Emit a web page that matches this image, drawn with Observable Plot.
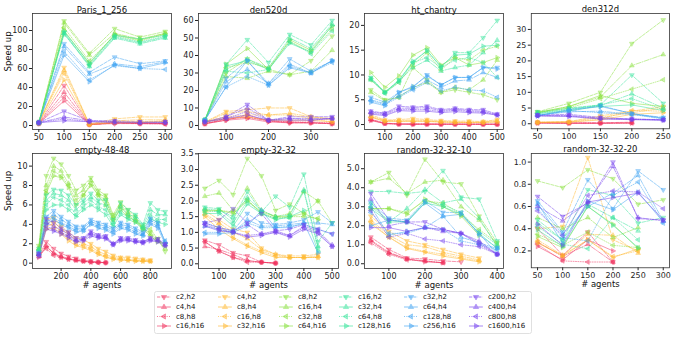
<!DOCTYPE html>
<html><head><meta charset="utf-8">
<script src="https://cdn.jsdelivr.net/npm/d3@7"></script>
<script src="https://cdn.jsdelivr.net/npm/@observablehq/plot@0.6"></script>
<style>
body{margin:0;background:#fff;font-family:"DejaVu Sans",sans-serif;}
#root{position:relative;width:675px;height:338px;overflow:hidden;background:#fff;}
.panel{position:absolute;}
</style></head><body><div id="root"></div>
<script>
// ---------- series ----------
const seriesNames = ["c2,h2","c4,h4","c8,h8","c16,h16",
  "c4,h2","c8,h4","c16,h8","c32,h16",
  "c8,h2","c16,h4","c32,h8","c64,h16",
  "c16,h2","c32,h4","c64,h8","c128,h16",
  "c32,h2","c64,h4","c128,h8","c256,h16",
  "c200,h2","c400,h4","c800,h8","c1600,h16"];
const groupColors = ["#f0305c","#ffb830","#86e03a","#33e49a","#3ea2f2","#7440ee"];

// ---------- Paris_1_256 ----------
const parisX = [50,100,150,200,250,300];
const parisY = [
 [2,42,1,2,2,2],[2,35,1,2.5,2,2],[2,30,1,3,2,1.5],[2,26,1,3,2.5,2],
 [3,61,1.5,7,9,9],[3,58,1.5,5,6,6],[3,55,1,4,4,5],[3,48,1,3,3,4],
 [3,110,76,102,93,99],[3,108,74,97,91,97],[3,103,68,95,89,96],[3,100,65,96,90,97],
 [3,98,63,93,87,93],[3,97,62,92,86,92],[3,96,64,94,88,94],[3,99,66,95,91,95],
 [3,86,56,72,65,68],[3,83,54,65,62,67],[3,78,48,63,60,59],[3,74,46,64,60,66],
 [3,15,5,5,4,4],[3,9,5,4,3,4],[3,7,4,4,3,3],[3,5,4,3,3,3]];
const parisXTicks = [50,100,150,200,250,300];
const parisYTicks = [0,20,40,60,80,100];

// ---------- den520d ----------
const den520X = [50,100,150,200,250,300,350];
const den520Y = [
 [1,3,6,2.5,1.5,1.5,1],[1,3.5,5,2.5,2,1.5,1],[1,4,4.5,3,2,2,1.5],[1,3,4,2,1.5,1.5,1],
 [2,8,9,10,10,5,4],[2,7,8,6,7,5,3],[2,5,6,6,6,4,2],[2,4,5,3,3,3,2],
 [3,30,38,32,29,37,51],[3,28,27,31,29,31,43],[3,33,36,33,48,42,55],[3,35,44,32,49,43,57],
 [3,35,49,36,52,46,60],[3,32,38,33,50,44,58],[3,31,30,32,48,41,54],[3,34,37,32,47,42,57],
 [3,27,37,24,38,31,37],[3,25,32,24,35,30,37],[3,22,28,23,34,30,36],[3,22,37,23,33,30,37],
 [2,5,12,3,5,5,5],[2,5,10,3,4,4,4],[2,4,8,3,4,3,4],[2,4,6,3,3,3,4]];
const den520XTicks = [100,200,300];
const den520YTicks = [0,10,20,30,40,50,60];

// ---------- ht_chantry ----------
const htX = [50,100,150,200,250,300,350,400,450,500];
const htY = [
 [1.1,0.3,0.1,0.1,0.1,0.1,0.1,0.1,0.1,0.1],[1.0,0.2,0.1,0.1,0.1,0.1,0.1,0.05,0.05,0.05],
 [0.9,0.2,0.1,0.1,0.1,0.05,0.05,0.05,0.05,0.05],[0.8,0.2,0.1,0.05,0.05,0.05,0.05,0.05,0.05,0.05],
 [2.0,0.9,1.0,1.2,1.0,0.8,0.7,0.7,0.6,1.0],[1.7,0.8,0.8,0.9,0.8,0.6,0.5,0.5,0.5,0.8],
 [1.5,0.7,0.7,0.7,0.7,0.5,0.5,0.4,0.4,0.6],[1.5,0.6,0.6,0.6,0.6,0.5,0.4,0.4,0.4,0.5],
 [7.0,5.0,5.5,11.5,9.0,6.5,7.0,6.5,6.0,5.0],[6.5,4.8,5.5,7.5,8.5,6.5,7.5,7.0,9.0,13.0],
 [9.0,6.5,8.5,12.0,14.5,11.0,13.5,13.0,15.0,15.8],[10.5,7.5,9.8,14.0,15.5,12.0,13.5,12.0,12.5,13.5],
 [9.5,6.5,9.0,12.5,15.0,11.5,14.5,14.5,17.5,21.0],[9.0,6.5,8.8,11.5,13.0,10.8,11.5,12.0,14.5,17.0],
 [9.2,6.3,8.5,12.5,13.5,11.5,13.0,13.5,12.5,9.5],[9.3,6.5,8.8,12.8,14.8,11.8,14.0,14.2,15.8,16.0],
 [5.5,4.5,6.5,7.5,10.0,8.0,9.5,9.5,11.5,11.5],[5.0,4.2,5.8,7.2,9.0,7.5,8.8,9.0,10.5,9.5],
 [4.8,4.0,5.5,7.0,8.5,6.8,7.5,7.0,6.8,5.5],[4.5,3.8,6.5,7.7,9.8,8.0,9.5,9.5,11.5,11.2],
 [2.7,2.3,3.7,3.5,3.7,3.0,3.3,3.0,3.0,2.1],[2.5,2.2,3.3,3.3,3.4,2.8,3.1,2.8,2.7,2.0],
 [2.3,2.0,3.0,3.0,3.0,2.6,2.9,2.6,2.5,1.9],[2.1,1.8,2.8,2.7,2.7,2.4,2.6,2.4,2.3,1.9]];
const htXTicks = [100,200,300,400,500];
const htYTicks = [0,5,10,15,20];

// ---------- den312d ----------
const den312X = [50,100,150,200,250];
const den312Y = [
 [0.4,0.3,0.3,0.5],[0.3,0.2,0.2,0.3],[0.2,0.2,0.2,0.2],[0.2,0.1,0.1,0.2],
 [0.5,0.7,2.5,4.0,5.5],[0.5,0.6,2.0,3.5,5.0],[0.4,0.5,1.5,4.2,4.0],[0.4,0.5,1.2,3.0,3.5],
 [3.8,6.5,10.0,25.5,33.0],[3.5,5.5,8.5,18.5,22.0],[3.5,5.0,8.0,11.0,14.0],[3.6,5.5,9.0,6.5,5.5],
 [3.8,5.0,6.0,15.5,6.5],[3.5,4.8,5.8,9.5,5.0],[3.3,4.5,6.0,8.0,4.5],[3.2,4.2,5.5,6.0,4.2],
 [2.8,4.0,5.8,3.2,2.0],[2.7,3.8,4.0,3.0,1.8],[2.6,4.2,3.5,3.0,1.5],[2.5,4.5,5.5,3.3,1.7],
 [2.8,3.0,2.0,1.5,1.3],[2.6,2.6,1.8,1.5,1.2],[2.5,2.5,1.6,1.4,1.2],[2.5,2.3,1.5,1.3,1.1]];
const den312XTicks = [50,100,150,200,250];
const den312YTicks = [0,5,10,15,20,25,30];

// ---------- empty-48-48 ----------
const e48X = [50,100,150,200,250,300,350,400,450,500,550,600,650,700,750,800,850,900];
const e48Y = [
 [0.8,2.2,1.5,1.0,0.7,0.5,0.3,0.2,0.1,0.05],[0.7,1.8,1.0,0.7,0.5,0.3,0.2,0.15,0.1,0.05],
 [0.8,1.5,0.8,0.6,0.4,0.3,0.2,0.1,0.05,0.05],[0.6,1.7,1.0,0.6,0.4,0.3,0.2,0.1,0.1,0.05],
 [1.0,4.5,4.7,3.8,3.2,2.6,2.4,2.0,1.5,1.2,0.8,0.6,0.6,0.5,0.4,0.3],
 [1.0,4.2,4.3,3.5,3.0,2.3,2.0,1.7,1.2,0.9,0.6,0.5,0.4,0.3,0.3,0.2],
 [0.9,3.8,4.0,3.2,2.6,2.0,1.8,1.5,1.0,0.7,0.5,0.4,0.3,0.3,0.2,0.2],
 [0.8,3.5,3.6,3.0,2.3,1.8,1.6,1.3,0.9,0.6,0.4,0.3,0.3,0.2,0.2,0.2],
 [1.8,9.0,10.8,10.2,9.0,7.5,8.0,8.8,7.5,7.0,5.0,6.3,5.5,4.8,3.5,3.2,2.5,1.2],
 [1.5,8.0,10.0,9.5,8.2,7.0,7.5,8.5,7.2,6.8,4.8,6.0,5.2,4.5,3.6,3.0,2.3,1.5],
 [1.4,7.5,9.5,9.0,8.0,6.5,7.0,8.2,7.0,6.5,4.5,5.8,5.0,4.3,3.8,3.5,2.5,1.8],
 [1.5,7.2,9.0,8.8,7.8,6.0,7.0,8.0,7.0,6.0,4.5,5.5,4.8,4.3,3.5,2.8,2.2,2.0],
 [1.5,7.0,7.6,7.5,7.0,6.0,6.5,7.2,6.5,6.5,4.5,6.2,5.5,5.0,4.0,6.2,5.5,5.3],
 [1.4,6.5,7.2,7.0,6.5,5.5,6.2,6.8,6.2,6.0,4.2,5.8,5.0,4.8,3.8,5.5,5.0,5.0],
 [1.3,6.0,6.8,6.5,6.0,5.0,5.8,6.5,5.8,5.5,4.0,5.3,4.7,4.5,3.6,5.0,4.5,4.5],
 [1.2,5.5,6.0,6.0,5.5,4.8,5.5,6.0,5.5,5.0,3.8,5.0,4.5,4.2,3.5,4.6,4.2,4.0],
 [1.1,4.8,5.4,4.8,4.3,3.8,3.8,4.5,4.2,4.0,3.6,4.2,4.0,3.6,3.2,4.6,4.2,2.0],
 [1.0,4.5,5.0,4.5,4.0,3.6,3.6,4.3,4.0,3.8,3.4,4.0,3.8,3.4,3.0,4.4,4.0,2.2],
 [1.0,4.2,4.7,4.2,3.8,3.4,3.4,4.1,3.8,3.6,3.2,3.8,3.6,3.2,2.9,4.2,3.8,2.3],
 [0.9,4.0,4.5,4.0,3.6,3.2,3.3,4.0,3.6,3.4,3.0,3.6,3.4,3.0,2.8,4.0,3.6,2.0],
 [1.0,4.6,4.2,3.6,3.2,2.6,2.6,3.3,2.9,2.8,2.0,2.6,2.6,2.4,2.2,2.6,2.5,2.0],
 [0.9,4.2,3.8,3.4,3.0,2.4,2.5,3.1,2.8,2.7,2.0,2.5,2.5,2.3,2.2,2.5,2.4,1.9],
 [0.8,3.8,3.5,3.2,2.8,2.3,2.4,3.0,2.7,2.6,1.9,2.4,2.4,2.2,2.1,2.4,2.3,1.8],
 [0.7,3.5,3.3,3.0,2.6,2.2,2.3,2.8,2.6,2.5,1.9,2.3,2.3,2.2,2.1,2.3,2.2,1.8]];
const e48XTicks = [200,400,600,800];
const e48YTicks = [0,2,4,6,8,10];

// ---------- empty-32-32 ----------
const e32X = [50,100,150,200,250,300,350,400,450,500];
const e32Y = [
 [0.75,0.6,0.35,0.25,0.05,0.02],[0.55,0.45,0.3,0.1,0.05,0.02],[0.7,0.4,0.2,0.05,0.05,0.02],[0.7,0.4,0.2,0.1,0.05,0.02],
 [1.7,1.4,1.1,1.0,0.5,0.3,0.25,0.25,0.3],[1.6,1.3,1.0,0.8,0.45,0.3,0.2,0.2,0.25],
 [1.55,1.25,0.85,0.6,0.4,0.25,0.2,0.2,0.2],[1.5,1.1,0.8,0.55,0.35,0.2,0.2,0.2,0.2],
 [2.4,2.65,2.2,3.35,2.8,1.7,1.9,1.6,2.0,1.3],[2.15,2.25,1.7,2.4,1.7,1.5,1.6,2.3,2.0],
 [1.65,1.7,1.65,2.05,1.6,1.45,1.5,1.5,1.45],[1.7,1.7,1.6,2.0,1.65,1.5,1.5,1.6,1.4],
 [1.8,1.75,1.4,2.3,1.65,2.15,1.8,2.85,0.7,1.3],[1.75,1.7,1.5,2.1,1.7,1.5,1.55,2.35,0.55],
 [1.7,1.65,1.3,2.0,1.6,1.45,1.45,2.3,0.5],[1.6,1.6,1.2,1.9,1.6,1.4,1.5,1.7,0.4],
 [1.3,1.15,1.05,1.6,1.3,1.25,1.3,1.4,1.65,1.3],[1.2,1.1,1.0,1.4,1.2,1.2,1.25,1.3,1.3,1.25],
 [1.0,1.0,1.05,1.3,1.15,1.15,1.2,1.25,1.1,0.95],[0.95,0.95,1.0,1.2,1.7,1.15,1.15,1.3,0.35],
 [1.3,1.4,1.75,1.3,1.6,1.05,1.1,1.25,1.1,0.95],[1.3,1.15,1.05,1.25,0.95,1.05,0.9,1.2,1.05,0.6],
 [1.25,1.1,1.0,0.9,0.95,1.0,0.9,1.15,1.0,0.55],[1.2,1.05,1.0,0.85,0.9,1.0,0.85,1.1,0.95,0.55]];
const e32XTicks = [100,200,300,400,500];
const e32YTicks = [0,0.5,1,1.5,2,2.5,3,3.5];

// ---------- random-32-32-10 ----------
const r10X = [50,100,150,200,250,300,350,400];
const r10Y = [
 [1.4,0.75,0.3,0.25,0.15,0.1],[1.25,0.6,0.25,0.15,0.05],[1.1,0.5,0.2,0.15,0.05],[1.2,0.55,0.25,0.1,0.05],
 [2.5,1.7,1.2,1.0,0.75,0.5,0.3],[2.3,1.5,1.0,0.9,0.6,0.4,0.2],[2.2,1.4,0.85,0.65,0.5,0.3,0.15],[2.1,1.4,0.8,0.6,0.4,0.25,0.1],
 [4.3,4.8,3.6,5.5,4.3,4.2,2.5,1.1],[4.3,4.5,3.7,4.3,4.4,3.0,2.3,1.0],[2.9,2.9,2.7,3.3,3.2,2.6,1.8,1.1],[2.9,2.9,2.6,3.4,3.0,2.5,1.5],
 [3.8,3.8,3.7,3.8,4.9,3.5,3.4,1.2],[3.2,2.2,2.9,3.9,3.2,3.4,2.4,0.9],[3.0,2.3,2.2,3.3,3.1,2.7,1.7,1.0],[2.9,2.2,2.2,3.2,3.0,2.6,1.6,0.8],
 [3.2,2.4,2.3,3.3,2.7,2.7,1.5,0.85],[3.0,1.5,1.7,1.9,2.5,1.4,1.1,0.8],[2.7,1.6,1.6,1.9,1.8,1.2,1.0,0.75],[2.0,2.3,2.2,3.2,2.5,2.6,1.6,0.5],
 [3.7,2.3,2.2,2.2,1.8,1.6,1.0,0.5],[3.4,2.0,2.2,1.9,1.7,1.6,1.2,0.5],[2.8,1.4,1.6,1.3,1.2,1.0,0.9,0.5],[1.9,1.9,1.7,1.9,1.8,1.6,1.1,0.5]];
const r10XTicks = [100,200,300,400];
const r10YTicks = [0,1,2,3,4,5];

// ---------- random-32-32-20 ----------
const r20X = [50,100,150,200,250,300];
const r20Y = [
 [0.4,0.16,0.37,0.1],[0.28,0.15,0.26,0.1],[0.26,0.11,0.1,0.1],[0.24,0.12,0.3,0.2],
 [0.4,0.42,1.04,0.3,0.2],[0.3,0.16,0.35,0.34,0.18],[0.28,0.15,0.3,0.15,0.2],[0.27,0.16,0.3,0.14,0.22],
 [0.83,0.77,0.93,0.85,0.62,0.66],[0.5,0.4,0.5,0.32,0.41],[0.35,0.25,0.37,0.25,0.23],[0.33,0.23,0.6,0.44,0.22],
 [0.48,0.3,0.75,0.7,0.45,0.5],[0.45,0.3,0.62,0.5,0.38],[0.42,0.26,0.22,0.5,0.3],[0.39,0.24,0.6,0.43,0.23],
 [0.65,0.37,0.84,0.58,0.92,0.75],[0.62,0.35,0.6,0.72,0.88,0.47],[0.58,0.32,0.29,0.7,0.82,0.45],[0.63,0.27,0.65,0.57,0.73,0.46],
 [0.69,0.51,0.63,1.0,0.49,0.48],[0.6,0.47,0.64,0.96,0.5,0.47],[0.56,0.34,0.7,0.74,0.73,0.58],[0.44,0.25,0.64,0.68,0.72,0.48]];
const r20XTicks = [50,100,150,200,250,300];
const r20YTicks = [0.2,0.4,0.6,0.8,1.0];

// ---------- styles ----------
const dashes = ["3.2,1.4","5,1.4,1,1.4","1,1.4",null];
const rotations = [180,0,-90,90];
const colX = [[32,171],[198,338],[364,503],[531,670]];
const rowY = [[13,129],[153,268]];

const panels = [
 {title:"Paris_1_256", x:parisX, ys:parisY, xd:[37.5,312.5], yd:[-4.2,117.9], xt:parisXTicks, yt:parisYTicks, c:0, r:0},
 {title:"den520d", x:den520X, ys:den520Y, xd:[35,365], yd:[-2.3,64], xt:den520XTicks, yt:den520YTicks, c:1, r:0},
 {title:"ht_chantry", x:htX, ys:htY, xd:[27.5,522.5], yd:[-1.0,22.4], xt:htXTicks, yt:htYTicks, c:2, r:0},
 {title:"den312d", x:den312X, ys:den312Y, xd:[40,260], yd:[-1.6,35.1], xt:den312XTicks, yt:den312YTicks, c:3, r:0},
 {title:"empty-48-48", x:e48X, ys:e48Y, xd:[7.5,942.5], yd:[-0.55,11.3], xt:e48XTicks, yt:e48YTicks, c:0, r:1},
 {title:"empty-32-32", x:e32X, ys:e32Y, xd:[27.5,522.5], yd:[-0.15,3.51], xt:e32XTicks, yt:e32YTicks, c:1, r:1, yf:".1f"},
 {title:"random-32-32-10", x:r10X, ys:r10Y, xd:[32.5,417.5], yd:[-0.25,5.8], xt:r10XTicks, yt:r10YTicks, c:2, r:1},
 {title:"random-32-32-20", x:r20X, ys:r20Y, xd:[37.5,312.5], yd:[0.048,1.078], xt:r20XTicks, yt:r20YTicks, c:3, r:1, yf:".1f"}
];

const root = document.getElementById("root");
const ML=40, MR=6, MT=16, MB=26;

for (const p of panels) {
  const [x0,x1] = colX[p.c], [y0,y1] = rowY[p.r];
  const rows = [];
  p.ys.forEach((vals,i) => vals.forEach((v,j) => rows.push({x:p.x[j], y:v, s:i, k:i%4, g:Math.floor(i/4)})));
  const marks = [];
  for (let k=0;k<4;k++) {
    const sub = rows.filter(d => d.k===k);
    marks.push(Plot.line(sub, {x:"x", y:"y", z:"s", stroke:d => groupColors[d.g], strokeWidth:0.85, strokeOpacity:0.6,
      strokeDasharray: dashes[k] || undefined}));
  }
  marks.push(Plot.dot(rows, {x:"x", y:"y", symbol:"triangle", r:1.8, fill:d => groupColors[d.g], fillOpacity:0.4,
    stroke:d => groupColors[d.g], strokeOpacity:0.55, strokeWidth:0.6, rotate:d => rotations[d.k]}));
  marks.push(Plot.frame({stroke:"#333", strokeWidth:0.8}));
  marks.push(Plot.text([p.title], {frameAnchor:"top", dy:-7, text:d => d, fontSize:8.5, fill:"#111"}));
  if (p.c===0) marks.push(Plot.text(["Speed up"], {frameAnchor:"left", dx:-24, rotate:-90, text:d => d, fontSize:8.5, fill:"#111"}));
  if (p.r===1) marks.push(Plot.text(["# agents"], {frameAnchor:"bottom", dy:19, text:d => d, fontSize:8.5, fill:"#111"}));
  const chart = Plot.plot({
    width:(x1-x0)+ML+MR, height:(y1-y0)+MT+MB,
    marginLeft:ML, marginRight:MR, marginTop:MT, marginBottom:MB,
    style:{fontFamily:"DejaVu Sans", fontSize:"8px", color:"#222", background:"transparent", overflow:"visible"},
    color:{type:"identity"},
    x:{domain:p.xd, ticks:p.xt, tickSize:3, tickPadding:1.5, label:null},
    y:{domain:p.yd, ticks:p.yt, tickSize:3, tickPadding:2, label:null, tickFormat:p.yf ? d3.format(p.yf) : undefined},
    marks
  });
  const wrap = document.createElement("div");
  wrap.className = "panel";
  wrap.style.left = (x0-ML)+"px";
  wrap.style.top = (y0-MT)+"px";
  wrap.appendChild(chart);
  root.appendChild(wrap);
}

// ---------- legend ----------
const lg = d3.select(root).append("svg")
  .attr("width",675).attr("height",338)
  .style("position","absolute").style("left","0px").style("top","0px");
lg.append("rect").attr("x",154.5).attr("y",291.5).attr("width",377).attr("height",42)
  .attr("rx",2).attr("fill","white").attr("fill-opacity",0.8).attr("stroke","#d8d8d8").attr("stroke-width",0.8);
const labelX = [176,237,298,358,423,488];
const rowCY = [297,307,316.5,326];
seriesNames.forEach((name,i) => {
  const c = Math.floor(i/4), k = i%4;
  const lx = labelX[c], cy = rowCY[k];
  const col = groupColors[c];
  lg.append("line").attr("x1",lx-19).attr("x2",lx-5).attr("y1",cy).attr("y2",cy)
    .attr("stroke",col).attr("stroke-opacity",0.7).attr("stroke-width",0.9)
    .attr("stroke-dasharray",dashes[k]);
  lg.append("path").attr("d",d3.symbol(d3.symbolTriangle, 12)())
    .attr("transform",`translate(${lx-12},${cy}) rotate(${rotations[k]})`)
    .attr("fill",col).attr("fill-opacity",0.5).attr("stroke",col).attr("stroke-opacity",0.6).attr("stroke-width",0.6);
  lg.append("text").attr("x",lx).attr("y",cy).attr("dy","0.35em")
    .attr("font-family","DejaVu Sans").attr("font-size",7).attr("fill","#111").text(name);
});
</script></body></html>
